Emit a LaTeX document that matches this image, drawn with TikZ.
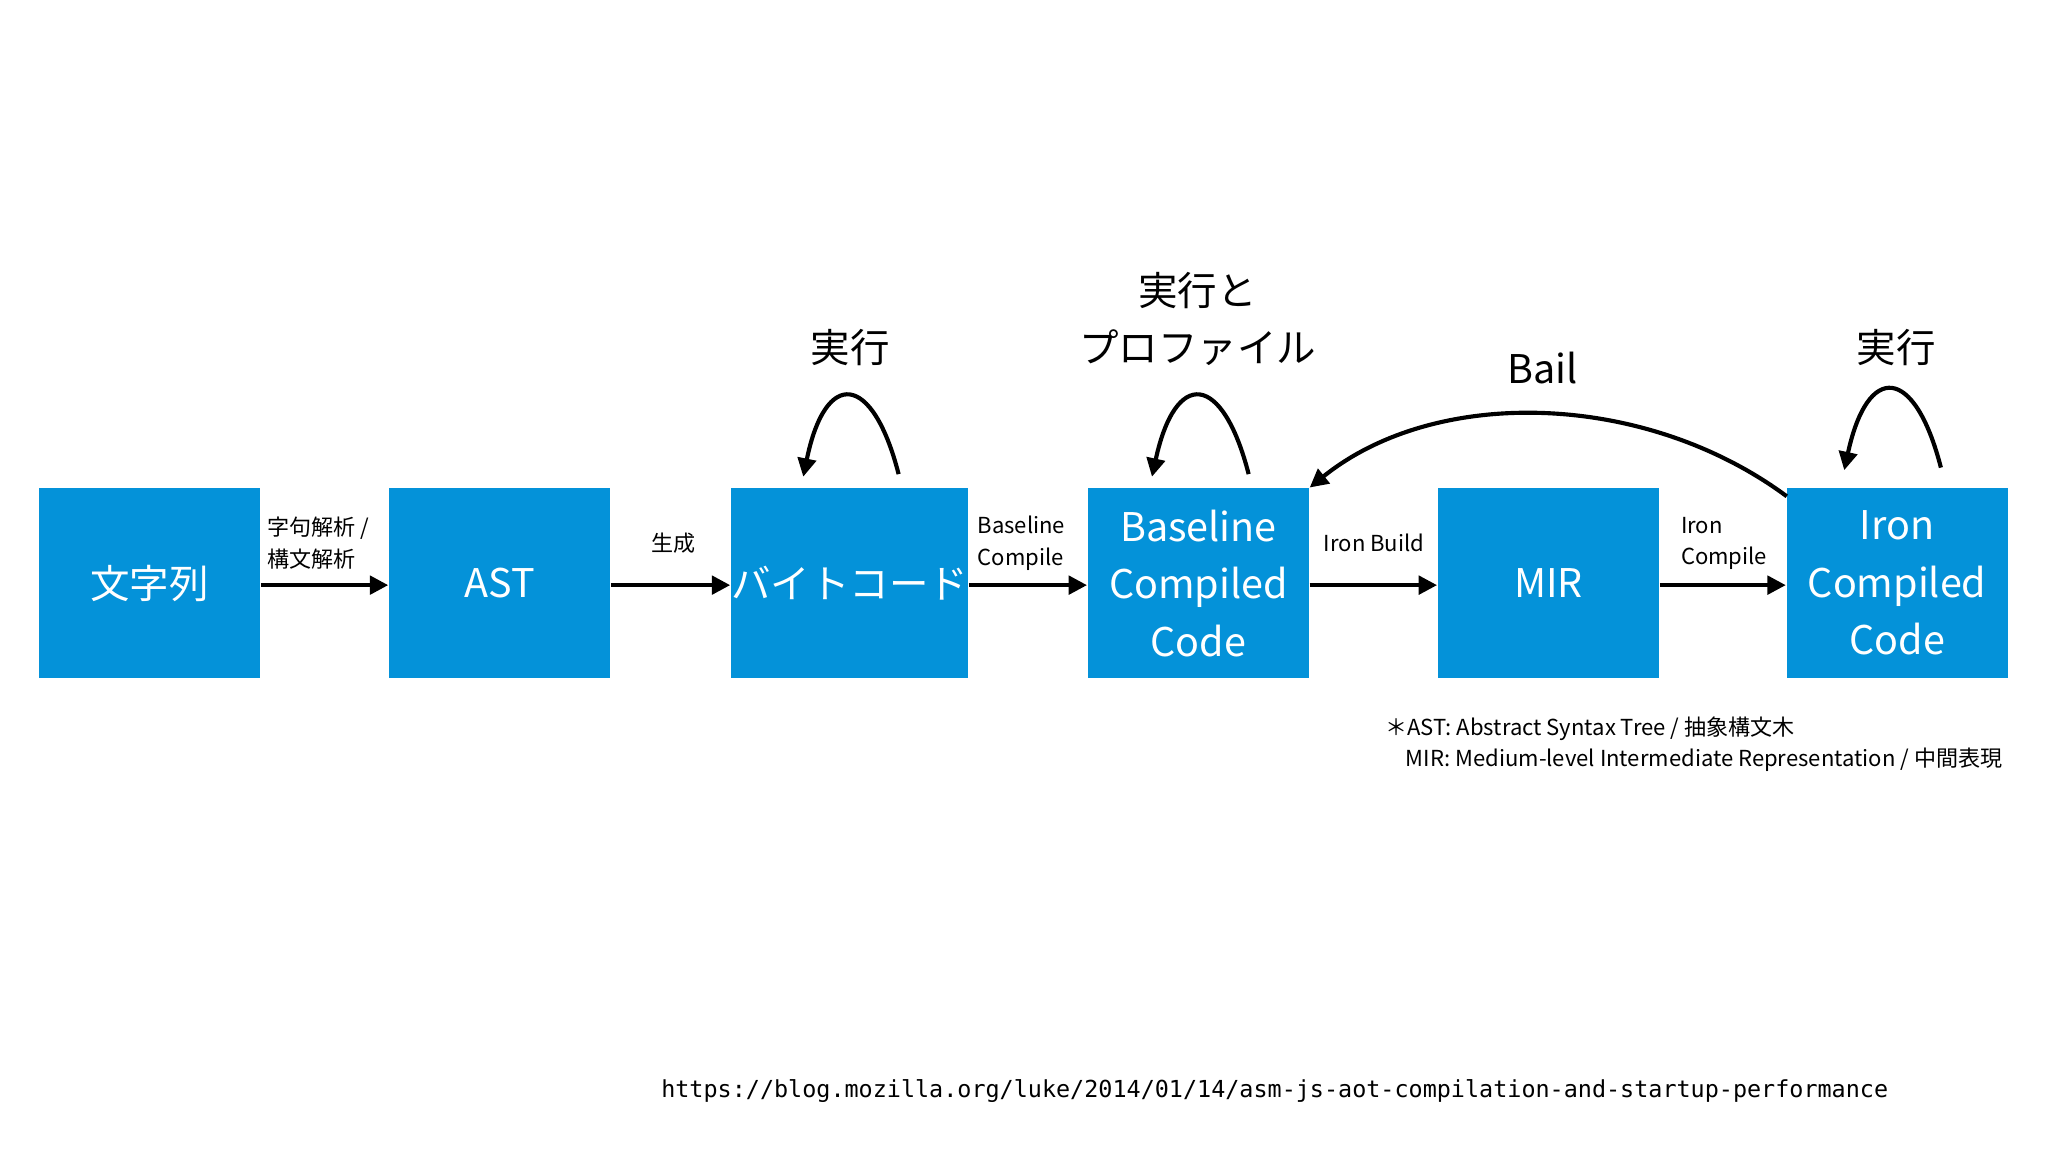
\documentclass[tikz,border=0pt]{standalone}
\usepackage{fontspec}
\setmainfont{Noto Sans CJK JP}
\newfontfamily\urlfont{DejaVu Sans Mono}
\usetikzlibrary{arrows.meta}
\definecolor{boxblue}{HTML}{0492D9}
\begin{document}
\begin{tikzpicture}[x=0.01cm,y=-0.01cm,
  blk/.style={fill=boxblue,minimum width=1.69cm,minimum height=1.45cm,inner sep=0pt,text=white,font=\fontsize{8.6pt}{12.5pt}\selectfont,align=center},
  conn/.style={line width=0.9pt,-{Triangle[length=4pt,width=4pt]}},
  lab/.style={font=\fontsize{4.8pt}{6.9pt}\selectfont,align=left},
  big/.style={font=\fontsize{8.6pt}{12.5pt}\selectfont,align=center}]
\useasboundingbox (0,0) rectangle (1568,882);
\node[blk] (s) at (114.5,446.5) {文字列};
\node[blk] (ast) at (382.5,446.5) {AST};
\node[blk] (bc) at (650.5,446.5) {バイトコード};
\node[blk] (bl) at (917.5,446.5) {Baseline\\Compiled\\Code};
\node[blk] (mir) at (1185.5,446.5) {MIR};
\node[blk] (ir) at (1452.5,446.5) {Iron\\Compiled\\Code};
\draw[conn] (s.east|-0,448) -- (ast.west|-0,448);
\draw[conn] (ast.east|-0,448) -- (bc.west|-0,448);
\draw[conn] (bc.east|-0,448) -- (bl.west|-0,448);
\draw[conn] (bl.east|-0,448) -- (mir.west|-0,448);
\draw[conn] (mir.east|-0,448) -- (ir.west|-0,448);
\node[lab] (l1) at (244,416) {字句解析 /\\構文解析};
\node[lab] (l2) at (516,416) {生成};
\node[lab] (l3) at (782,416) {Baseline\\Compile};
\node[lab] (l4) at (1052,416) {Iron Build};
\node[lab] (l5) at (1320,416) {Iron\\Compile};
\coordinate (a1) at (688,363); \coordinate (b1) at (615,365);
\draw[conn] (a1) .. controls (668,285) and (632,282) .. (b1);
\coordinate (a2) at (956,363); \coordinate (b2) at (882,365);
\draw[conn] (a2) .. controls (936,285) and (900,282) .. (b2);
\coordinate (a3) at (1486,358); \coordinate (b3) at (1412,360);
\draw[conn] (a3) .. controls (1466,280) and (1430,277) .. (b3);
\coordinate (c1) at (1368,380);
\draw[conn] (c1) .. controls (1260,300) and (1100,295) .. (bl.north east);
\node[big] (t1) at (651,266) {実行};
\node[big] (t2) at (917,244) {実行と\\プロファイル};
\node[big] (t3) at (1181,282) {Bail};
\node[big] (t4) at (1452,266) {実行};
\node[lab,anchor=west] (n1) at (1048,558) {＊AST: Abstract Syntax Tree / 抽象構文木};
\node[lab,anchor=west] (n2) at (1064,582) {MIR: Medium-level Intermediate Representation / 中間表現};
\node[font=\urlfont\fontsize{5.1pt}{6pt}\selectfont] (u) at (976,835) {https://blog.mozilla.org/luke/2014/01/14/asm-js-aot-compilation-and-startup-performance};
\end{tikzpicture}
\end{document}
